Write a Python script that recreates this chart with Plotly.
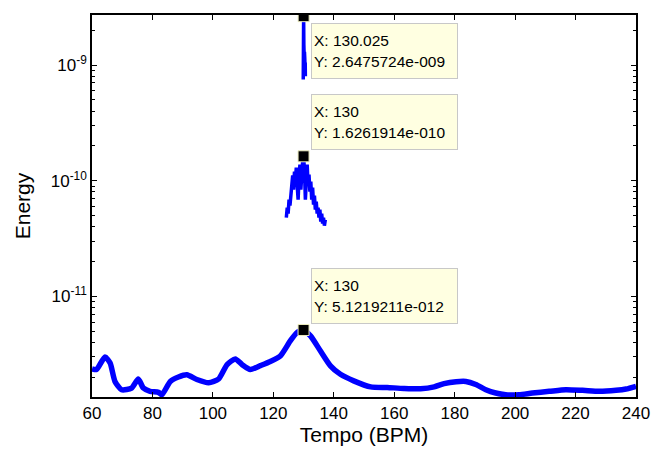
import math
import plotly.graph_objects as go

# Broad energy curve over the full tempo range
tempo_broad = [60, 61.5, 64.3, 66, 67.6, 69.8, 73.1, 75.3, 77, 79.2, 82, 83.1, 85.9, 88.6,
               91.4, 94.7, 98.6, 101.9, 104.7, 107.4, 109.7, 112.4, 115.7, 119, 122.3,
               125.6, 127.8, 130, 132.3, 135.6, 138.9, 142.2, 146.6, 152.2, 157.7, 163.2,
               168.7, 173.2, 176.5, 180.5, 183.7, 187, 190.3, 193.6, 196.9, 201.3, 205.7,
               211.3, 216.8, 222.3, 227.8, 233.4, 236.7, 240]
energy_broad = [2.36e-12, 2.33e-12, 2.99e-12, 2.65e-12, 1.84e-12, 1.56e-12, 1.61e-12,
                1.93e-12, 1.61e-12, 1.51e-12, 1.48e-12, 1.41e-12, 1.84e-12, 2.01e-12,
                2.10e-12, 1.91e-12, 1.79e-12, 1.93e-12, 2.57e-12, 2.88e-12, 2.57e-12,
                2.33e-12, 2.52e-12, 2.74e-12, 3.05e-12, 4.12e-12, 4.86e-12, 5.1219211e-12,
                4.55e-12, 3.37e-12, 2.51e-12, 2.12e-12, 1.86e-12, 1.65e-12, 1.63e-12,
                1.60e-12, 1.59e-12, 1.65e-12, 1.76e-12, 1.83e-12, 1.84e-12, 1.73e-12,
                1.56e-12, 1.46e-12, 1.41e-12, 1.41e-12, 1.46e-12, 1.51e-12, 1.56e-12,
                1.54e-12, 1.51e-12, 1.54e-12, 1.58e-12, 1.67e-12]

# Noisy energy trace around 130 BPM
tempo_mid = [124.3, 124.6, 124.9, 125.2, 125.5, 125.8, 126.1, 126.4, 126.7, 127.0, 127.3,
             127.6, 127.9, 128.2, 128.5, 128.8, 129.1, 129.4, 129.7, 130.0, 130.3, 130.6,
             130.9, 131.2, 131.5, 131.8, 132.1, 132.4, 132.7, 133.0, 133.3, 133.6, 133.9,
             134.2, 134.5, 134.8, 135.1, 135.4, 135.7, 136.0, 136.3, 136.6, 136.9, 137.2]
energy_mid = [4.80e-11, 5.86e-11, 5.20e-11, 6.87e-11, 6.10e-11, 8.06e-11, 9.27e-11,
              1.109e-10, 8.39e-11, 1.20e-10, 1.023e-10, 1.30e-10, 9.08e-11, 6.87e-11,
              1.065e-10, 1.38e-10, 8.39e-11, 1.20e-10, 1.466e-10, 1.6261914e-10,
              1.25e-10, 6.87e-11, 1.30e-10, 1.38e-10, 9.27e-11, 1.13e-10, 8.06e-11,
              9.84e-11, 6.87e-11, 8.73e-11, 6.22e-11, 7.44e-11, 5.63e-11, 6.61e-11,
              5.20e-11, 5.86e-11, 4.80e-11, 5.63e-11, 4.43e-11, 5.20e-11, 4.26e-11,
              4.80e-11, 4.09e-11, 4.61e-11]

# Sharp energy spike at 130 BPM
tempo_top = [129.9, 129.95, 129.98, 130.0, 130.025, 130.05, 130.1, 130.2, 130.3, 130.4,
             130.5, 130.55, 130.6]
energy_top = [7.5e-10, 9.5e-10, 1.4e-9, 2.0e-9, 2.6475724e-9, 2.0e-9, 1.5e-9, 1.2e-9,
              1.3e-9, 1.15e-9, 0.95e-9, 1.05e-9, 8.0e-10]

# Data tips: marked points and their label texts
tip_x = [130.025, 130, 130]
tip_y = [2.6475724e-9, 1.6261914e-10, 5.1219211e-12]
tip_xtext = ["130.025", "130", "130"]
tip_ytext = ["2.6475724e-009", "1.6261914e-010", "5.1219211e-012"]

x_ticks = [60, 80, 100, 120, 140, 160, 180, 200, 220, 240]
y_ticks = [1e-11, 1e-10, 1e-9]
y_ticktext = ["10<sup>-11</sup>", "10<sup>-10</sup>", "10<sup>-9</sup>"]

BLUE = "rgb(0,0,255)"
FONT = "Liberation Sans, Arial, sans-serif"

fig = go.Figure()
fig.add_trace(go.Scatter(x=tempo_broad, y=energy_broad, mode="lines",
                         line=dict(color=BLUE, width=5.5, shape="spline", smoothing=0.6),
                         hoverinfo="skip"))
fig.add_trace(go.Scatter(x=tempo_mid, y=energy_mid, mode="lines",
                         line=dict(color=BLUE, width=3.5), hoverinfo="skip"))
fig.add_trace(go.Scatter(x=tempo_top, y=energy_top, mode="lines",
                         line=dict(color=BLUE, width=3.5), hoverinfo="skip"))
fig.add_trace(go.Scatter(x=tip_x, y=tip_y, mode="markers",
                         marker=dict(symbol="square", size=11, color="black",
                                     line=dict(color="rgb(235,235,190)", width=1)),
                         hoverinfo="skip"))

# Yellow data-tip boxes (annotation y on a log axis is given in log10 units)
anchors = ["top", "bottom", "bottom"]
yshifts = [-7, 6, 6]
for xv, yv, xt, yt, anc, ys in zip(tip_x, tip_y, tip_xtext, tip_ytext, anchors, yshifts):
    fig.add_annotation(x=xv, y=math.log10(yv), xref="x", yref="y", showarrow=False,
                       text=f"X: {xt}<br>Y: {yt}", align="left",
                       xanchor="left", yanchor=anc, xshift=7, yshift=ys,
                       width=141, height=50, borderpad=2,
                       bgcolor="rgb(255,255,225)", bordercolor="rgb(200,200,200)",
                       borderwidth=1,
                       font=dict(family=FONT, size=15.5, color="black"))

# Minor tick positions on the log axis: 2..9 within each decade
minor_vals = [m * 10.0 ** e for e in range(-12, -8) for m in range(2, 10)]

axis_common = dict(showline=True, linecolor="black", linewidth=1.5, mirror="ticks",
                   ticks="inside", tickcolor="black", showgrid=False, zeroline=False,
                   tickfont=dict(family=FONT, size=17, color="black"))

fig.update_xaxes(range=[60, 240], tickvals=x_ticks, ticklen=5,
                 title=dict(text="Tempo (BPM)", font=dict(family=FONT, size=21, color="black"),
                            standoff=4),
                 **axis_common)
fig.update_yaxes(type="log", range=[-11.87, -8.567], tickvals=y_ticks, ticktext=y_ticktext,
                 ticklen=5,
                 minor=dict(tickmode="array", tickvals=minor_vals, ticks="inside", ticklen=3,
                            tickcolor="black", showgrid=False),
                 title=dict(text="Energy", font=dict(family=FONT, size=21, color="black"),
                            standoff=14),
                 **axis_common)

fig.update_layout(width=651, height=453, showlegend=False,
                  margin=dict(l=92, r=15, t=15, b=56, autoexpand=False),
                  plot_bgcolor="white", paper_bgcolor="white")

fig.write_html("out.html")
